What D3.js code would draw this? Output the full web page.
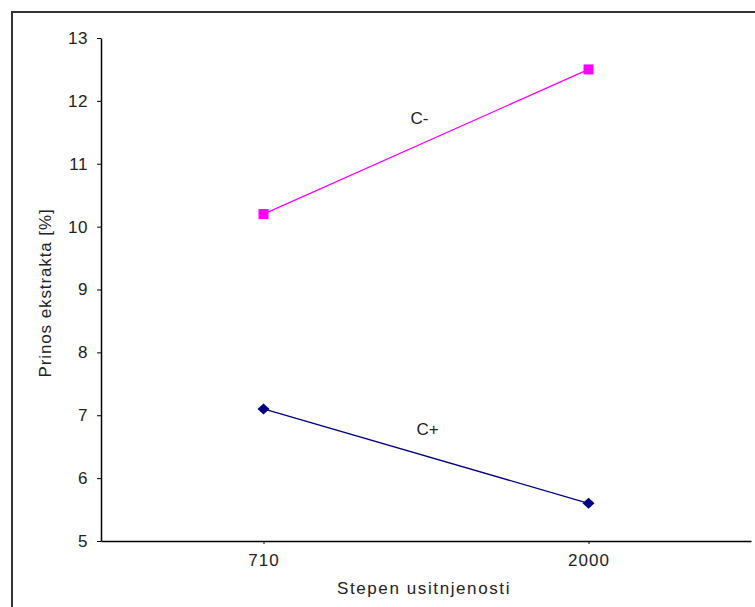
<!DOCTYPE html>
<html><head><meta charset="utf-8">
<script src="https://cdn.jsdelivr.net/npm/d3@7"></script>
<style>body{margin:0;background:#fff;}svg{display:block;font-family:"Liberation Sans",Arial,sans-serif;}</style>
</head><body>
<svg id="c" width="755" height="607"></svg>
<script>
const categories = ["710", "2000"];
const seriesNames = ["C-", "C+"];
const valuesCminus = [10.2, 12.5];
const valuesCplus = [7.1, 5.6];
const yTicks = [5, 6, 7, 8, 9, 10, 11, 12, 13];
const labelPos = [{s:"C-", x:1.48, y:11.7}, {s:"C+", x:1.505, y:6.75}];

(function(){
const svg = d3.select("#c");
const FS = 17;
svg.append("path").attr("d","M12,620 V12 H770").attr("fill","none").attr("stroke","#333").attr("stroke-width",2);

const pL=101, pR=751, pT=38, pB=541;
const x = d3.scalePoint().domain(categories).range([pL,pR]).padding(0.5);
const y = d3.scaleLinear().domain([5,13]).range([pB,pT]);

const ya = svg.append("g").attr("transform",`translate(${pL},0)`)
  .call(d3.axisLeft(y).tickValues(yTicks).tickSize(4).tickSizeOuter(0).tickPadding(9).tickFormat(d3.format("d")));
ya.select(".domain").attr("stroke","#000").attr("stroke-width",1.5);
ya.selectAll("text").attr("font-size",FS).attr("fill","#222").attr("font-family","Liberation Sans, Arial, sans-serif").attr("letter-spacing",0.5);

const xa = svg.append("g").attr("transform",`translate(0,${pB})`)
  .call(d3.axisBottom(x).tickSize(3).tickSizeOuter(0).tickPadding(10));
xa.select(".domain").attr("stroke","#000").attr("stroke-width",1.5);
xa.selectAll("text").attr("font-size",FS).attr("fill","#222").attr("font-family","Liberation Sans, Arial, sans-serif").attr("letter-spacing",1);

const line = d3.line().x((d,i)=>x(categories[i])).y(d=>y(d));
svg.append("path").datum(valuesCminus).attr("d",line).attr("fill","none").attr("stroke","#ff00ff").attr("stroke-width",1.3);
svg.append("path").datum(valuesCplus).attr("d",line).attr("fill","none").attr("stroke","#000080").attr("stroke-width",1.3);

svg.selectAll(".sq").data(valuesCminus).enter().append("rect")
  .attr("x",(d,i)=>x(categories[i])-5).attr("y",d=>y(d)-5).attr("width",10).attr("height",10).attr("fill","#ff00ff");
svg.selectAll(".dm").data(valuesCplus).enter().append("path")
  .attr("d",(d,i)=>{const cx=x(categories[i]),cy=y(d);return `M${cx},${cy-5.5}L${cx+6},${cy}L${cx},${cy+5.5}L${cx-6},${cy}Z`;})
  .attr("fill","#000080");

const xl = d3.scaleLinear().domain([1,2]).range([x(categories[0]), x(categories[1])]);
svg.selectAll(".lbl").data(labelPos).enter().append("text")
  .attr("x",d=>xl(d.x)).attr("y",d=>y(d.y)).attr("text-anchor","middle").attr("dominant-baseline","middle")
  .attr("font-size",FS).attr("fill","#222").text(d=>d.s);

svg.append("text").attr("x",424).attr("y",594).attr("text-anchor","middle").attr("font-size",FS).attr("fill","#222").attr("letter-spacing",1.6).text("Stepen usitnjenosti");
svg.append("text").attr("transform",`translate(51,293) rotate(-90)`).attr("text-anchor","middle").attr("font-size",FS).attr("fill","#222").attr("letter-spacing",0.9).text("Prinos ekstrakta [%]");
})();
</script>
</body></html>
